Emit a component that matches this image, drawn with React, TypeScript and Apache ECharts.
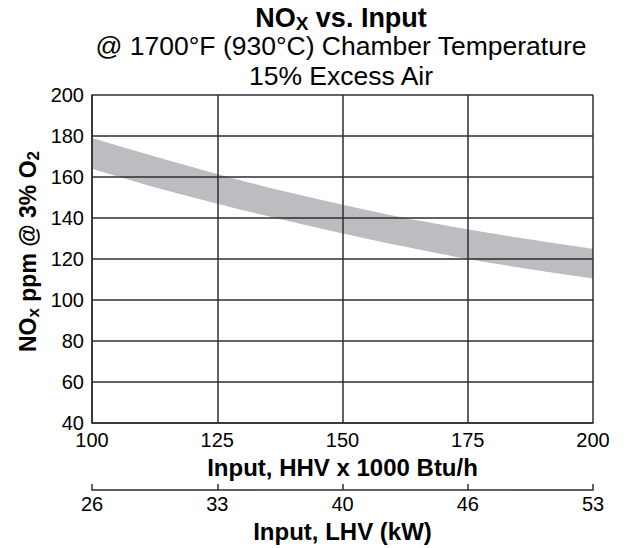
import React, { useEffect, useRef } from "react";
import * as echarts from "echarts";

const hhv = [100, 112.5, 125, 137.5, 150, 162.5, 175, 187.5, 200];
const upper = [179, 170, 161.5, 153.5, 146.5, 140, 134.5, 129.5, 125];
const lower = [164, 155, 147, 139.5, 132.5, 126, 120, 115, 110.5];
const hhvTicks = [100, 125, 150, 175, 200];
const lhvLabels = ["26", "33", "40", "46", "53"];

const FONT = "Liberation Sans, Arial, Helvetica, sans-serif";
const GRID = "#2e2e2e";

export default function App() {
  const ref = useRef<HTMLDivElement>(null);
  useEffect(() => {
    const chart = echarts.init(ref.current!, null, { renderer: "svg" });
    const upperData = hhv.map((x, i) => [x, upper[i]]);
    const lowerData = hhv.map((x, i) => [x, lower[i]]);
    chart.setOption({
      animation: false,
      textStyle: { fontFamily: FONT, color: "#000" },
      graphic: [
        {
          type: "text",
          x: 341,
          y: 17.6,
          style: {
            text: "{b|NO}{sub|X}{b| vs. Input}",
            align: "center",
            verticalAlign: "middle",
            rich: {
              b: { fontSize: 27, fontWeight: "bold", fontFamily: FONT, fill: "#000" },
              sub: { fontSize: 19, fontWeight: "bold", fontFamily: FONT, fill: "#000", padding: [12, 0, 0, 0] },
            },
          },
        },
        {
          type: "text",
          x: 341,
          y: 45.8,
          style: {
            text: "@ 1700°F (930°C) Chamber Temperature",
            align: "center",
            verticalAlign: "middle",
            fontSize: 26.5,
            fontFamily: FONT,
            fill: "#000",
          },
        },
        {
          type: "text",
          x: 341,
          y: 75.8,
          style: {
            text: "15% Excess Air",
            align: "center",
            verticalAlign: "middle",
            fontSize: 26.5,
            fontFamily: FONT,
            fill: "#000",
          },
        },
        {
          type: "text",
          x: 28,
          y: 251.5,
          rotation: Math.PI / 2,
          style: {
            text: "{b|NO}{sub|x}{b| ppm @ 3% O}{sub|2}",
            align: "center",
            verticalAlign: "middle",
            rich: {
              b: { fontSize: 23, fontWeight: "bold", fontFamily: FONT, fill: "#000" },
              sub: { fontSize: 17, fontWeight: "bold", fontFamily: FONT, fill: "#000", padding: [10, 0, 0, 0] },
            },
          },
        },
      ],
      grid: { left: 92, top: 95, width: 501, height: 331, containLabel: false },
      xAxis: [
        {
          type: "value",
          min: 100,
          max: 200,
          interval: 25,
          z: 5,
          axisLine: { show: true, lineStyle: { color: GRID, width: 1.5 } },
          axisTick: { show: false },
          splitLine: { show: true, lineStyle: { color: GRID, width: 1.5 } },
          axisLabel: { fontSize: 20, color: "#000", margin: 7, fontFamily: FONT },
          name: "Input, HHV x 1000 Btu/h",
          nameLocation: "middle",
          nameGap: 28.5,
          nameTextStyle: { fontSize: 24, fontWeight: "bold", color: "#000", fontFamily: FONT },
        },
        {
          type: "value",
          position: "bottom",
          offset: 67,
          min: 100,
          max: 200,
          interval: 25,
          axisLine: { show: true, onZero: false, lineStyle: { color: GRID, width: 1.5 } },
          axisTick: { show: true, inside: true, length: 6, lineStyle: { color: GRID, width: 1.5 } },
          splitLine: { show: false },
          axisLabel: {
            fontSize: 20,
            color: "#000",
            margin: 4,
            fontFamily: FONT,
            formatter: (v: number) => {
              const i = hhvTicks.indexOf(v);
              return i >= 0 ? lhvLabels[i] : "";
            },
          },
          name: "Input, LHV (kW)",
          nameLocation: "middle",
          nameGap: 23,
          nameTextStyle: { fontSize: 24, fontWeight: "bold", color: "#000", fontFamily: FONT },
        },
      ],
      yAxis: {
        type: "value",
        min: 40,
        max: 200,
        interval: 20,
        z: 5,
        axisLine: { show: true, lineStyle: { color: GRID, width: 1.5 } },
        axisTick: { show: false },
        splitLine: { show: true, lineStyle: { color: GRID, width: 1.5 } },
        axisLabel: { fontSize: 20, color: "#000", margin: 8, fontFamily: FONT },
      },
      series: [
        {
          type: "line",
          data: upperData,
          smooth: 0.3,
          symbol: "none",
          lineStyle: { width: 0, opacity: 0 },
          areaStyle: { color: "#bcbdc0", opacity: 1, origin: "start" },
          z: 2,
        },
        {
          type: "line",
          data: lowerData,
          smooth: 0.3,
          symbol: "none",
          lineStyle: { width: 0, opacity: 0 },
          areaStyle: { color: "#ffffff", opacity: 1, origin: "start" },
          z: 3,
        },
      ],
    });
    return () => chart.dispose();
  }, []);
  return (
    <div
      ref={ref}
      style={{ position: "absolute", left: 0, top: 0, width: 633, height: 548, background: "#fff" }}
    />
  );
}
